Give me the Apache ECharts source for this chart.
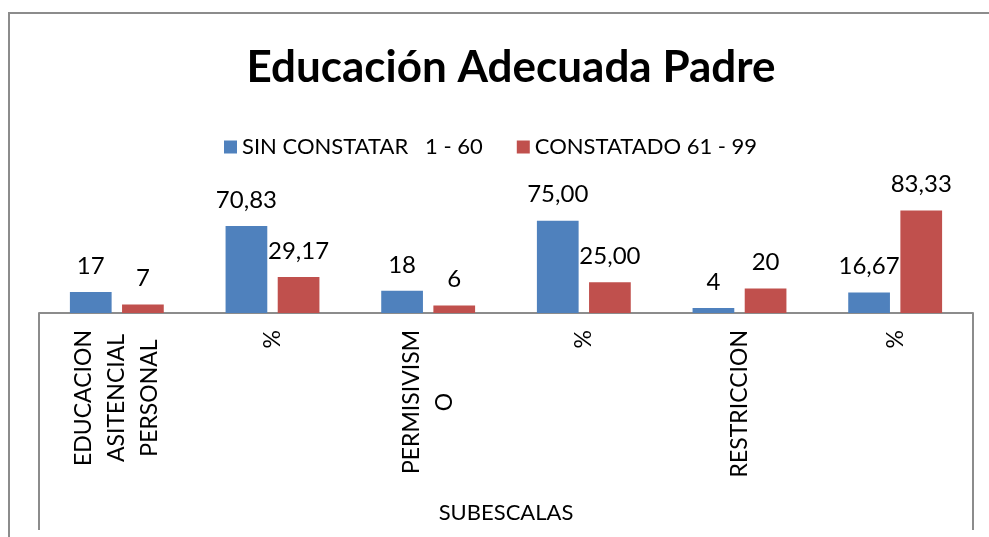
<!DOCTYPE html>
<html>
<head>
<meta charset="utf-8">
<script src="https://cdn.jsdelivr.net/npm/echarts@6/dist/echarts.min.js"></script>
<style>
html, body { margin: 0; padding: 0; background: #fff; }
#main { width: 989px; height: 537px; }
</style>
</head>
<body>
<div id="main"></div>
<script>
// datos
var categorias = ['EDUCACION\nASITENCIAL\nPERSONAL', '%', 'PERMISIVISM\nO', '%', 'RESTRICCION', '%'];
var sinConstatar = [17, 70.83, 18, 75.00, 4, 16.67];
var constatado = [7, 29.17, 6, 25.00, 20, 83.33];
var etiquetasSin = ['17', '70,83', '18', '75,00', '4', '16,67'];
var etiquetasCon = ['7', '29,17', '6', '25,00', '20', '83,33'];

var fuente = 'Lato';
var myChart = echarts.init(document.getElementById('main'));
var option = {
    animation: false,
    title: {
        text: 'Educación Adecuada Padre',
        left: 506,
        textAlign: 'center',
        top: 41,
        textStyle: { fontFamily: fuente, fontWeight: 'bold', fontSize: 44, color: '#000' }
    },
    legend: {
        top: 131,
        left: 219,
        itemWidth: 13,
        itemHeight: 13,
        itemGap: 34,
        icon: 'rect',
        textStyle: { fontFamily: fuente, fontSize: 22, color: '#000' },
        data: ['SIN CONSTATAR   1 - 60', 'CONSTATADO 61 - 99']
    },
    grid: {
        left: 39,
        right: 16,
        top: 190,
        bottom: 224,
        outerBoundsMode: 'none'
    },
    xAxis: {
        type: 'category',
        data: categorias,
        name: 'SUBESCALAS',
        nameLocation: 'middle',
        nameGap: 189,
        nameTextStyle: { fontFamily: fuente, fontSize: 22, color: '#000', verticalAlign: 'top' },
        axisLine: { lineStyle: { color: '#8c8c8c', width: 2 } },
        axisTick: { show: false },
        axisLabel: {
            interval: 0,
            rotate: 90,
            margin: 17,
            color: '#000',
            fontFamily: fuente,
            fontSize: 23,
            formatter: function (v) {
                return v.split('\n').map(function (l) { return '{c|' + l + '}'; }).join('\n');
            },
            rich: {
                c: { align: 'center', fontFamily: fuente, fontSize: 23, lineHeight: 33, color: '#000' }
            }
        }
    },
    yAxis: {
        type: 'value',
        min: 0,
        max: 100,
        show: false
    },
    series: [
        {
            name: 'SIN CONSTATAR   1 - 60',
            type: 'bar',
            barWidth: '26.8%',
            barGap: '25%',
            itemStyle: { color: '#4F81BD' },
            label: {
                show: true,
                position: 'top',
                distance: 14,
                fontFamily: fuente,
                fontSize: 24,
                color: '#000',
                formatter: function (p) { return etiquetasSin[p.dataIndex]; }
            },
            data: sinConstatar
        },
        {
            name: 'CONSTATADO 61 - 99',
            type: 'bar',
            barWidth: '26.8%',
            barGap: '25%',
            itemStyle: { color: '#C0504D' },
            label: {
                show: true,
                position: 'top',
                distance: 14,
                fontFamily: fuente,
                fontSize: 24,
                color: '#000',
                formatter: function (p) { return etiquetasCon[p.dataIndex]; }
            },
            data: constatado
        }
    ],
    graphic: [
        { type: 'rect', shape: { x: 9, y: 13, width: 1100, height: 700 }, style: { fill: 'none', stroke: '#8c8c8c', lineWidth: 2 }, silent: true },
        { type: 'line', shape: { x1: 39, y1: 313, x2: 39, y2: 530 }, style: { stroke: '#8c8c8c', lineWidth: 2 }, silent: true },
        { type: 'line', shape: { x1: 973, y1: 313, x2: 973, y2: 530 }, style: { stroke: '#8c8c8c', lineWidth: 2 }, silent: true }
    ]
};
myChart.setOption(option);
</script>
</body>
</html>
